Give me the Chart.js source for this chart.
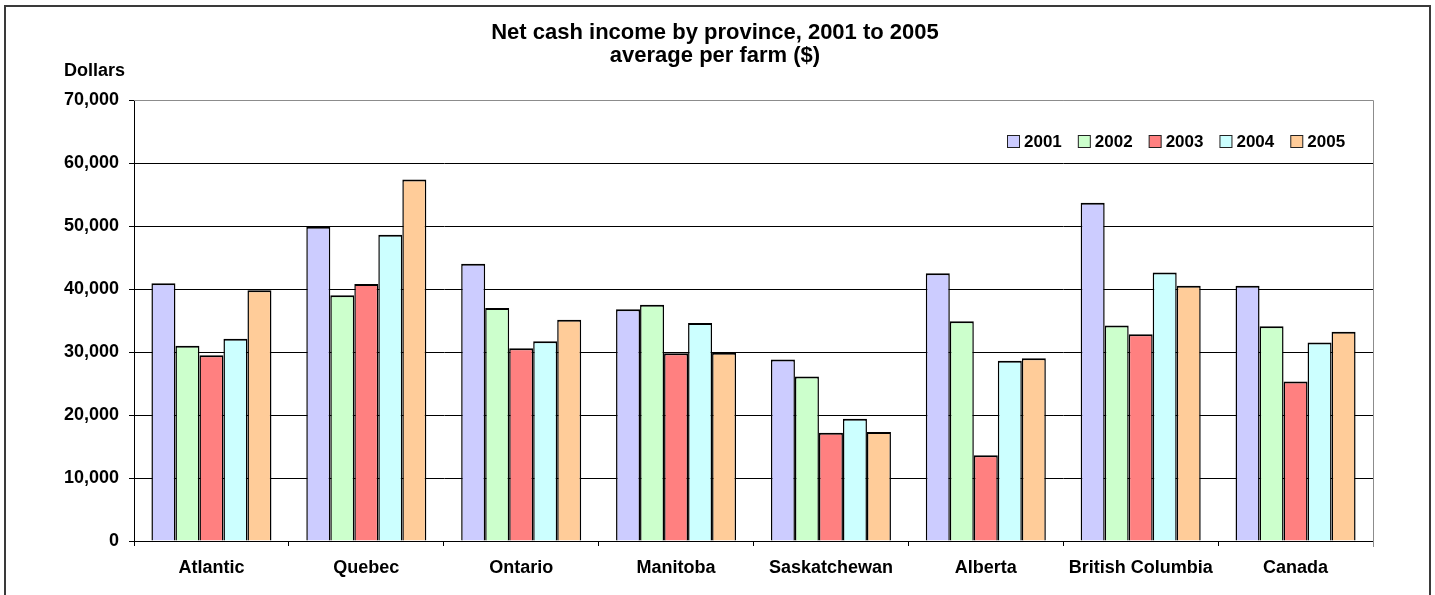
<!DOCTYPE html>
<html>
<head>
<meta charset="utf-8">
<title>Net cash income by province</title>
<script src="https://cdn.jsdelivr.net/npm/chart.js@4.4.1/dist/chart.umd.min.js"></script>
<style>
    html, body { margin: 0; padding: 0; background: #fff; }
    #wrap { width: 1435px; height: 595px; }
</style>
</head>
<body>
<div id="wrap"><canvas id="income_chart" width="1435" height="595"></canvas></div>
<script>
const provinces = ["Atlantic", "Quebec", "Ontario", "Manitoba", "Saskatchewan", "Alberta", "British Columbia", "Canada"];
const years = ["2001", "2002", "2003", "2004", "2005"];

const income2001 = [40900, 49900, 44000, 36800, 28800, 42500, 53700, 40500];
const income2002 = [31000, 39000, 37000, 37500, 26100, 34900, 34200, 34100];
const income2003 = [29500, 40800, 30600, 29800, 17200, 13600, 32800, 25300];
const income2004 = [32100, 48600, 31700, 34600, 19400, 28600, 42600, 31500];
const income2005 = [39800, 57400, 35100, 29900, 17300, 29000, 40500, 33200];

const yTicks = [0, 10000, 20000, 30000, 40000, 50000, 60000, 70000];

const seriesValues = [income2001, income2002, income2003, income2004, income2005];
const barColors = ["#CCCCFF", "#CCFFCC", "#FF8080", "#CCFFFF", "#FFCC99"];

const FONT = "'Liberation Sans', Arial, sans-serif";

// title, unit label, frame and legend are painted on the canvas
const decorations = {
    id: "decorations",
    afterDraw(chart) {
        const ctx = chart.ctx;
        const area = chart.chartArea;
        ctx.save();

        // outer frame
        ctx.strokeStyle = "#3a3a3a";
        ctx.lineWidth = 2;
        ctx.beginPath();
        ctx.moveTo(5, 595);
        ctx.lineTo(5, 6);
        ctx.lineTo(1430, 6);
        ctx.lineTo(1430, 595);
        ctx.stroke();

        // plot border (top and right)
        ctx.strokeStyle = "#8c8c8c";
        ctx.lineWidth = 1;
        ctx.beginPath();
        ctx.moveTo(area.left, area.top + 0.5);
        ctx.lineTo(area.right + 0.5, area.top + 0.5);
        ctx.lineTo(area.right + 0.5, area.bottom + 6);
        ctx.stroke();

        ctx.fillStyle = "#000";
        ctx.textAlign = "center";
        ctx.textBaseline = "middle";
        ctx.font = "bold 22px " + FONT;
        ctx.fillText("Net cash income by province, 2001 to 2005", 715, 33);
        ctx.fillText("average per farm ($)", 715, 56);

        ctx.textAlign = "left";
        ctx.font = "bold 18px " + FONT;
        ctx.fillText("Dollars", 64, 71);

        // legend, right aligned inside the plot
        ctx.font = "bold 17px " + FONT;
        const box = 12, gap = 5, spacing = 16;
        const items = chart.data.datasets.map(ds => ({
            label: ds.label,
            color: ds.backgroundColor,
            w: box + gap + ctx.measureText(ds.label).width
        }));
        const total = items.reduce((s, it) => s + it.w, 0) + spacing * (items.length - 1);
        let x = Math.round(area.right - 28 - total);
        const y = 141;
        items.forEach(it => {
            ctx.fillStyle = it.color;
            ctx.fillRect(x + 0.5, y - box / 2 + 0.5, box, box);
            ctx.strokeStyle = "#222";
            ctx.lineWidth = 1;
            ctx.strokeRect(x + 0.5, y - box / 2 + 0.5, box, box);
            ctx.fillStyle = "#000";
            ctx.textBaseline = "middle";
            ctx.fillText(it.label, x + box + gap, y + 1);
            x += it.w + spacing;
        });

        ctx.restore();
    }
};

const datasets = years.map((year, i) => ({
    label: year,
    data: seriesValues[i],
    backgroundColor: barColors[i],
    borderColor: "#000",
    borderWidth: { top: 2, left: 1.5, right: 1.5, bottom: 0 },
    borderSkipped: false,
    categoryPercentage: 0.775,
    barPercentage: 1.0
}));

new Chart(document.getElementById("income_chart"), {
    type: "bar",
    data: { labels: provinces, datasets: datasets },
    plugins: [decorations],
    options: {
        responsive: false,
        animation: false,
        devicePixelRatio: 1,
        layout: { padding: { top: 100, left: 0, right: 62, bottom: 0 } },
        plugins: {
            legend: { display: false },
            title: { display: false },
            tooltip: { enabled: false }
        },
        scales: {
            x: {
                afterFit(scale) { scale.height = 54; },
                grid: {
                    display: true,
                    drawOnChartArea: false,
                    drawTicks: true,
                    tickLength: 5,
                    tickColor: "#000",
                    offset: true
                },
                border: { display: true, color: "#000", width: 1 },
                ticks: {
                    color: "#000",
                    padding: 11,
                    font: { family: FONT, size: 18, weight: "bold" }
                }
            },
            y: {
                min: yTicks[0],
                max: yTicks[yTicks.length - 1],
                afterFit(scale) { scale.width = 134; },
                afterBuildTicks(scale) {
                    scale.ticks = yTicks.map(v => ({ value: v }));
                },
                grid: {
                    color: ctx => (ctx.tick && ctx.tick.value === yTicks[yTicks.length - 1]) ? "#8c8c8c" : "#000",
                    lineWidth: 1,
                    drawTicks: true,
                    tickLength: 5,
                    tickColor: "#000"
                },
                border: { display: true, color: "#000", width: 1 },
                ticks: {
                    color: "#000",
                    padding: 10,
                    font: { family: FONT, size: 18, weight: "bold" },
                    callback: v => v.toLocaleString("en-US")
                }
            }
        }
    }
});
</script>
</body>
</html>
